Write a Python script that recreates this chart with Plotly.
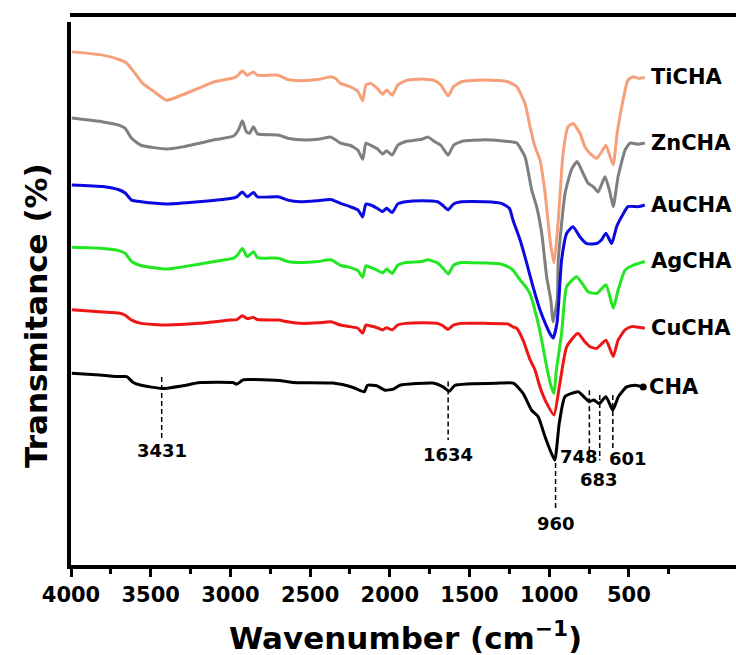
import plotly.graph_objects as go

# ---------------- data ----------------
ti_wn = [3995, 3800, 3690, 3650, 3600, 3550, 3480, 3400, 3300, 3200, 3100, 2980, 2955, 2925, 2895, 2855, 2830,
         2700, 2640, 2560, 2450, 2370, 2340, 2310, 2250, 2200, 2170, 2150, 2120, 2080, 2045, 2020, 1985, 1950,
         1900, 1800, 1720, 1680, 1634, 1600, 1550, 1400, 1260, 1204, 1152, 1120, 1089, 1058, 1026, 995, 970,
         943, 913, 882, 850, 807, 776, 744, 702, 671, 644, 618, 598, 574, 537, 506, 474, 440, 400]
ti_t = [94.5, 93.9, 93.0, 92.4, 90.6, 88.7, 87.2, 85.6, 86.6, 87.8, 89.0, 89.7, 90.1, 91.0, 90.2, 90.8, 90.2,
        90.2, 89.4, 89.2, 89.4, 89.9, 89.6, 88.7, 88.1, 87.2, 85.5, 88.4, 88.7, 87.8, 86.7, 87.5, 86.5, 88.4,
        89.2, 89.5, 89.2, 88.4, 86.4, 88.1, 89.0, 89.3, 89.0, 88.1, 85.0, 80.7, 77.0, 74.6, 68.5, 59.9, 55.6,
        63.5, 75.8, 80.7, 81.3, 79.5, 77.0, 75.8, 74.9, 76.1, 77.3, 75.2, 73.7, 79.5, 85.6, 89.3, 89.9, 89.6, 89.8]

zn_wn = [3995, 3800, 3700, 3660, 3620, 3560, 3400, 3300, 3100, 2980, 2950, 2925, 2900, 2880, 2855, 2830, 2700,
         2640, 2560, 2450, 2370, 2340, 2310, 2250, 2200, 2170, 2150, 2120, 2080, 2045, 2020, 1985, 1950, 1900,
         1800, 1760, 1720, 1680, 1634, 1600, 1550, 1400, 1260, 1204, 1152, 1110, 1079, 1047, 1016, 990, 975,
         950, 943, 900, 859, 825, 787, 756, 724, 693, 650, 618, 598, 568, 524, 493, 440, 400]
zn_t = [82.3, 81.6, 81.0, 80.4, 78.6, 77.3, 76.6, 77.0, 78.3, 79.0, 80.1, 81.8, 79.8, 79.5, 80.7, 79.4, 79.2,
        78.6, 78.3, 78.4, 78.8, 78.3, 77.7, 77.3, 76.4, 74.7, 77.7, 77.3, 76.7, 75.7, 76.3, 75.5, 77.3, 78.0,
        78.4, 78.8, 78.0, 77.3, 75.5, 77.3, 78.0, 78.3, 78.0, 77.7, 75.2, 69.1, 66.0, 61.1, 53.1, 48.8, 44.8,
        48.8, 56.2, 68.5, 72.9, 74.3, 72.1, 70.3, 69.7, 68.7, 71.5, 68.5, 66.0, 71.5, 76.4, 77.7, 77.5, 77.7]

au_wn = [3995, 3800, 3700, 3660, 3620, 3560, 3400, 3200, 3000, 2960, 2925, 2895, 2855, 2830, 2700, 2640, 2560,
         2450, 2370, 2310, 2250, 2200, 2170, 2150, 2120, 2080, 2045, 2020, 1985, 1950, 1900, 1800, 1700, 1670,
         1634, 1600, 1550, 1400, 1300, 1250, 1227, 1183, 1141, 1102, 1058, 1026, 995, 975, 950, 922, 890, 850,
         807, 765, 702, 671, 644, 608, 577, 537, 506, 440, 400]
au_t = [70.0, 69.7, 69.1, 68.5, 67.2, 66.9, 66.5, 66.9, 67.5, 67.8, 68.7, 67.8, 68.6, 67.8, 67.8, 67.2, 66.9,
        67.1, 67.3, 66.6, 66.0, 65.4, 64.1, 66.5, 66.3, 65.7, 65.1, 65.7, 64.9, 66.5, 66.9, 67.1, 66.9, 66.3,
        65.4, 66.5, 66.9, 66.9, 66.6, 65.7, 63.5, 59.9, 55.6, 51.3, 47.0, 44.6, 42.6, 41.8, 44.8, 56.2, 61.1, 62.3,
        60.4, 59.2, 59.2, 59.9, 61.1, 59.2, 62.3, 64.6, 66.0, 66.0, 66.3]

ag_wn = [3995, 3800, 3700, 3660, 3620, 3560, 3400, 3300, 3100, 2980, 2955, 2925, 2895, 2855, 2830, 2700, 2640,
         2560, 2450, 2370, 2310, 2250, 2200, 2170, 2150, 2120, 2080, 2045, 2020, 1985, 1950, 1900, 1800, 1760,
         1700, 1670, 1634, 1600, 1550, 1400, 1300, 1250, 1227, 1183, 1141, 1120, 1079, 1047, 1016, 990, 970,
         955, 922, 890, 828, 787, 756, 702, 644, 598, 568, 524, 474, 400]
ag_t = [58.5, 58.3, 57.9, 57.4, 55.9, 55.1, 54.5, 54.9, 55.9, 56.5, 57.1, 58.3, 56.8, 57.7, 56.6, 56.5, 55.9,
        55.7, 55.9, 56.2, 55.2, 54.8, 54.2, 53.0, 55.1, 54.8, 54.3, 53.8, 54.5, 53.7, 55.2, 55.7, 55.9, 56.2,
        55.6, 54.8, 53.6, 55.2, 55.7, 55.6, 55.4, 54.8, 54.3, 52.5, 51.0, 49.9, 45.7, 41.4, 36.5, 33.1, 31.6,
        35.9, 42.7, 51.3, 53.1, 51.6, 50.3, 50.0, 51.6, 47.3, 50.6, 54.3, 55.2, 55.9]

cu_wn = [3995, 3800, 3700, 3660, 3620, 3560, 3400, 3200, 3000, 2960, 2925, 2895, 2855, 2830, 2700, 2640, 2560,
         2450, 2370, 2310, 2250, 2200, 2170, 2150, 2120, 2080, 2045, 2020, 1985, 1950, 1900, 1800, 1700, 1670,
         1634, 1600, 1550, 1400, 1260, 1225, 1204, 1164, 1120, 1089, 1058, 1016, 970, 933, 890, 820, 776, 744,
         702, 644, 598, 568, 524, 483, 400]
cu_t = [47.0, 46.6, 46.4, 46.0, 45.1, 44.5, 44.2, 44.5, 45.1, 45.2, 45.9, 45.4, 45.6, 45.2, 45.1, 44.8, 44.5,
        44.6, 44.8, 44.2, 43.9, 43.6, 42.7, 44.2, 44.0, 43.7, 43.3, 43.7, 43.3, 44.2, 44.5, 44.6, 44.5, 44.1,
        43.4, 44.2, 44.5, 44.5, 44.4, 43.8, 43.6, 41.4, 37.8, 35.9, 32.8, 29.8, 27.6, 33.5, 40.2, 42.7, 41.1, 40.2,
        39.9, 41.4, 38.4, 41.4, 43.3, 43.9, 43.6]

cha_wn = [3995, 3820, 3700, 3650, 3610, 3560, 3427, 3300, 3190, 2985, 2960, 2920, 2670, 2607, 2356, 2231, 2160,
          2140, 2082, 2030, 1978, 1936, 1729, 1666, 1627, 1591, 1309, 1225, 1164, 1110, 1069, 1026, 995, 965,
          937, 901, 818, 776, 748, 720, 687, 644, 601, 566, 514, 461, 410]
cha_t = [35.3, 35.0, 34.7, 34.7, 33.6, 33.1, 32.5, 33.0, 33.6, 33.6, 33.3, 34.1, 33.9, 33.6, 33.5, 32.7, 31.9,
         33.1, 33.0, 32.2, 32.4, 33.1, 33.5, 32.8, 32.0, 33.1, 33.5, 33.5, 31.6, 28.5, 27.3, 23.6, 21.2, 19.3,
         26.1, 31.0, 31.9, 30.8, 30.1, 30.4, 29.7, 31.0, 28.5, 31.0, 32.8, 33.1, 32.8]

series_names = ["TiCHA", "ZnCHA", "AuCHA", "AgCHA", "CuCHA", "CHA"]
series_colors = ["#F5A07A", "#7F7F7F", "#0A0AE0", "#22E622", "#EE1515", "#000000"]

peak_labels = ["3431", "1634", "960", "748", "683", "601"]
peak_wn = [3431, 1634, 960, 748, 683, 601]

x_tick_vals = [4000, 3500, 3000, 2500, 2000, 1500, 1000, 500]
x_tick_text = ["4000", "3500", "3000", "2500", "2000", "1500", "1000", "500"]
x_minor_vals = [3750, 3250, 2750, 2250, 1750, 1250, 750, 250]

# ---------------- figure ----------------
W, H = 736, 655
L, R, T, B = 71, 0, 22, 90
plot_w = W - L - R
plot_h = H - T - B
px_per_unit = 79.7 / 500.0
x_right = 4000 - plot_w / px_per_unit

FONT = "DejaVu Sans"
fig = go.Figure()

all_series = [(ti_wn, ti_t), (zn_wn, zn_t), (au_wn, au_t), (ag_wn, ag_t), (cu_wn, cu_t), (cha_wn, cha_t)]
for (wn, tv), name, col in zip(all_series, series_names, series_colors):
    fig.add_trace(go.Scatter(x=wn, y=tv, mode="lines", name=name,
                             line=dict(color=col, width=3, shape="spline", smoothing=0.5),
                             showlegend=False, hoverinfo="skip"))
    fig.add_annotation(x=wn[-1], y=tv[-1], xref="x", yref="y", text=name, showarrow=False,
                       xanchor="left", yanchor="middle", xshift=4,
                       font=dict(family=FONT, size=21, color="black", weight="bold"))

# end dot on CHA
fig.add_trace(go.Scatter(x=[cha_wn[-1]], y=[cha_t[-1]], mode="markers",
                         marker=dict(color="black", size=7), showlegend=False, hoverinfo="skip"))

# peak guide lines (dashed) and labels
line_spans = {"3431": (34.6, 23.4), "1634": (33.8, 23.0), "960": (18.8, 10.5),
              "748": (32.2, 19.3), "683": (31.3, 19.3), "601": (31.3, 21.2)}
label_pos = {"3431": (3431, 21.0), "1634": (1634, 20.3), "960": (960, 7.7),
             "748": (813, 19.9), "683": (686, 15.7), "601": (504, 19.7)}
for lab, wn in zip(peak_labels, peak_wn):
    y0, y1 = line_spans[lab]
    fig.add_shape(type="line", xref="x", yref="y", x0=wn, x1=wn, y0=y0, y1=y1,
                  line=dict(color="black", width=1.5, dash="5px,3px"))
    lx, ly = label_pos[lab]
    fig.add_annotation(x=lx, y=ly, xref="x", yref="y", text=lab, showarrow=False,
                       xanchor="center", yanchor="middle",
                       font=dict(family=FONT, size=18, color="black", weight="bold"))

# top border line
fig.add_shape(type="line", xref="paper", yref="paper", x0=-1 / plot_w, x1=1,
              y0=1 + 7 / plot_h, y1=1 + 7 / plot_h, line=dict(color="black", width=4))

# axis titles
fig.add_annotation(x=(405 - L) / plot_w, y=(H - B - 636) / plot_h, xref="paper", yref="paper",
                   text="Wavenumber (cm<sup>−1</sup>)", showarrow=False, xanchor="center", yanchor="middle",
                   font=dict(family=FONT, size=31, color="black", weight="bold"))
fig.add_annotation(x=(36 - L) / plot_w, y=(H - B - 316) / plot_h, xref="paper", yref="paper",
                   text="Transmitance (%)", showarrow=False, textangle=-90, xanchor="center", yanchor="middle",
                   font=dict(family=FONT, size=31, color="black", weight="bold"))

fig.update_xaxes(range=[4000, x_right], showline=True, linewidth=4, linecolor="black", mirror=False,
                 showgrid=False, zeroline=False, ticks="outside", ticklen=8, tickwidth=3, tickcolor="black",
                 tickvals=x_tick_vals, ticktext=x_tick_text,
                 tickfont=dict(family=FONT, size=21, color="black", weight="bold"),
                 minor=dict(tickvals=x_minor_vals, ticks="outside", ticklen=5, tickwidth=3, tickcolor="black"))
fig.update_yaxes(range=[0, 100], showline=True, linewidth=4, linecolor="black", showgrid=False,
                 zeroline=False, ticks="", showticklabels=False)

fig.update_layout(width=W, height=H, margin=dict(l=L, r=R, t=T, b=B),
                  paper_bgcolor="white", plot_bgcolor="white")

fig.write_html("out.html", config={"displayModeBar": False},
               post_script="document.body.style.margin='0px';document.body.style.overflow='hidden';")
